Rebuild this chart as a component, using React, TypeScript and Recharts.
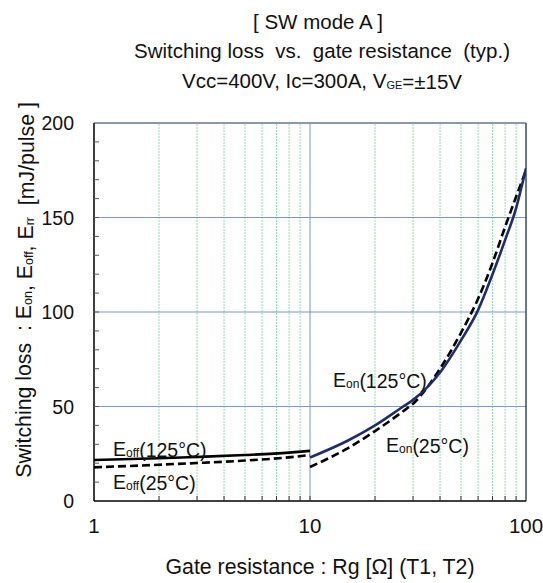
import { LineChart, Line, XAxis, YAxis, ReferenceLine } from "recharts";

// gate resistance points (ohm) and losses (mJ/pulse)
const rgOff = [1, 2, 3, 5, 8, 10];
const eoff125 = [21.7, 22.6, 23.3, 24.3, 25.6, 26.5];
const eoff25 = [17.8, 19.2, 20.1, 21.4, 23.1, 24.3];

const rgOn = [10, 15, 20, 27, 30, 40, 50, 60, 70, 80, 90, 100];
const eon125 = [23, 32, 40, 50, 53.5, 68, 85, 101, 120, 138, 155, 176];
const eon25 = [18, 28, 37, 47.5, 51.5, 70, 89, 107, 126, 145, 161, 175];

const xTicks = [1, 2, 3, 4, 5, 6, 7, 8, 9, 10, 20, 30, 40, 50, 60, 70, 80, 90, 100];
const xLabels = [1, 10, 100];
const xMinorGrid = [2, 3, 4, 5, 6, 7, 8, 9, 20, 30, 40, 50, 60, 70, 80, 90];
const yTicks = [0, 10, 20, 30, 40, 50, 60, 70, 80, 90, 100, 110, 120, 130, 140, 150, 160, 170, 180, 190, 200];
const yLabels = [0, 50, 100, 150, 200];
const yGrid = [50, 100, 150];

const toPoints = (xs: number[], ys: number[]) => xs.map((x, i) => ({ x, y: ys[i] }));

const font = '"Liberation Sans", Arial, sans-serif';

const XTick = (props: any) => {
  const { x, y, payload } = props;
  const v = payload.value;
  return (
    <g>
      {v !== 1 && v !== 100 && <line x1={x} x2={x} y1={y} y2={y - 5} stroke="#333" strokeWidth={1} />}
      {xLabels.includes(v) && (
        <text x={x} y={y + 32} textAnchor="middle" fontSize={20.5} fontFamily={font} fill="#111">
          {v}
        </text>
      )}
    </g>
  );
};

const YTick = (props: any) => {
  const { x, y, payload } = props;
  const v = payload.value;
  return (
    <g>
      {v !== 0 && v !== 200 && <line x1={x} x2={x + 5} y1={y} y2={y} stroke="#555" strokeWidth={1} />}
      {yLabels.includes(v) && (
        <text x={x - 20} y={y + 7} textAnchor="end" fontSize={19.5} fontFamily={font} fill="#111">
          {v}
        </text>
      )}
    </g>
  );
};

const sub = (t: string, size = 12) => (
  <>
    <tspan fontSize={size} dy={1}>{t}</tspan>
    <tspan dy={-1}></tspan>
  </>
);

const pre = { whiteSpace: "pre" as const };

export default function App() {
  return (
    <div style={{ position: "absolute", left: 0, top: 0, width: 543, height: 583, background: "#fff" }}>
      <LineChart width={543} height={583} margin={{ top: 123, right: 17, bottom: 0, left: 0 }}>
        {xMinorGrid.map((v) => (
          <ReferenceLine key={"gx" + v} x={v} stroke="#95dcb0" strokeDasharray="2 1" strokeWidth={1} />
        ))}
        <ReferenceLine x={10} stroke="#7b96cc" strokeWidth={1} />
        {yGrid.map((v) => (
          <ReferenceLine key={"gy" + v} y={v} stroke="#7b96cc" strokeWidth={1} />
        ))}
        <ReferenceLine y={200} stroke="#8d98a8" strokeWidth={2} />
        <ReferenceLine x={100} stroke="#394866" strokeWidth={1.5} />
        <XAxis
          type="number"
          dataKey="x"
          scale="log"
          domain={[1, 100]}
          ticks={xTicks}
          tick={XTick}
          tickLine={false}
          tickSize={0}
          tickMargin={0}
          height={82}
          interval={0}
          allowDataOverflow
          axisLine={{ stroke: "#000", strokeWidth: 1.5 }}
        />
        <YAxis
          type="number"
          domain={[0, 200]}
          ticks={yTicks}
          tick={YTick}
          tickLine={false}
          tickSize={0}
          tickMargin={0}
          width={94}
          interval={0}
          axisLine={{ stroke: "#000", strokeWidth: 1.5 }}
        />
        <Line data={toPoints(rgOff, eoff125)} dataKey="y" type="monotone" stroke="#000" strokeWidth={2.6} dot={false} isAnimationActive={false} />
        <Line data={toPoints(rgOff, eoff25)} dataKey="y" type="monotone" stroke="#000" strokeWidth={2.6} strokeDasharray="8 4" dot={false} isAnimationActive={false} />
        <Line data={toPoints(rgOn, eon25)} dataKey="y" type="monotone" stroke="#000" strokeWidth={2.6} strokeDasharray="8 4" dot={false} isAnimationActive={false} />
        <Line data={toPoints(rgOn, eon125)} dataKey="y" type="monotone" stroke="#1f2d6b" strokeWidth={2.6} dot={false} isAnimationActive={false} />
      </LineChart>
      <svg width={543} height={583} style={{ position: "absolute", left: 0, top: 0, pointerEvents: "none" }} fontFamily={font} fill="#111">
        <text x={318} y={29} textAnchor="middle" fontSize={20.5} style={pre}>[ SW mode A ]</text>
        <text x={322} y={58} textAnchor="middle" fontSize={20.5} style={pre}>Switching loss  vs.  gate resistance  (typ.)</text>
        <text x={322} y={88} textAnchor="middle" fontSize={20.5} style={pre}>
          Vcc=400V, Ic=300A, V{sub("GE", 11)}=±15V
        </text>
        <text x={320} y={574} textAnchor="middle" fontSize={21.3} style={pre}>Gate resistance : Rg [Ω] (T1, T2)</text>
        <text x={31} y={290} textAnchor="middle" fontSize={21.3} transform="rotate(-90 31 290)" style={pre}>
          Switching loss  : E{sub("on", 12.5)}, E{sub("off", 12.5)}, E{sub("rr", 12.5)}  [mJ/pulse ]
        </text>
        <text x={113} y={456} fontSize={19.5}>E{sub("off")}(125°C)</text>
        <text x={113} y={489} fontSize={19.5}>E{sub("off")}(25°C)</text>
        <text x={333} y={387} fontSize={19.5}>E{sub("on")}(125°C)</text>
        <text x={386} y={452} fontSize={19.5}>E{sub("on")}(25°C)</text>
      </svg>
    </div>
  );
}
